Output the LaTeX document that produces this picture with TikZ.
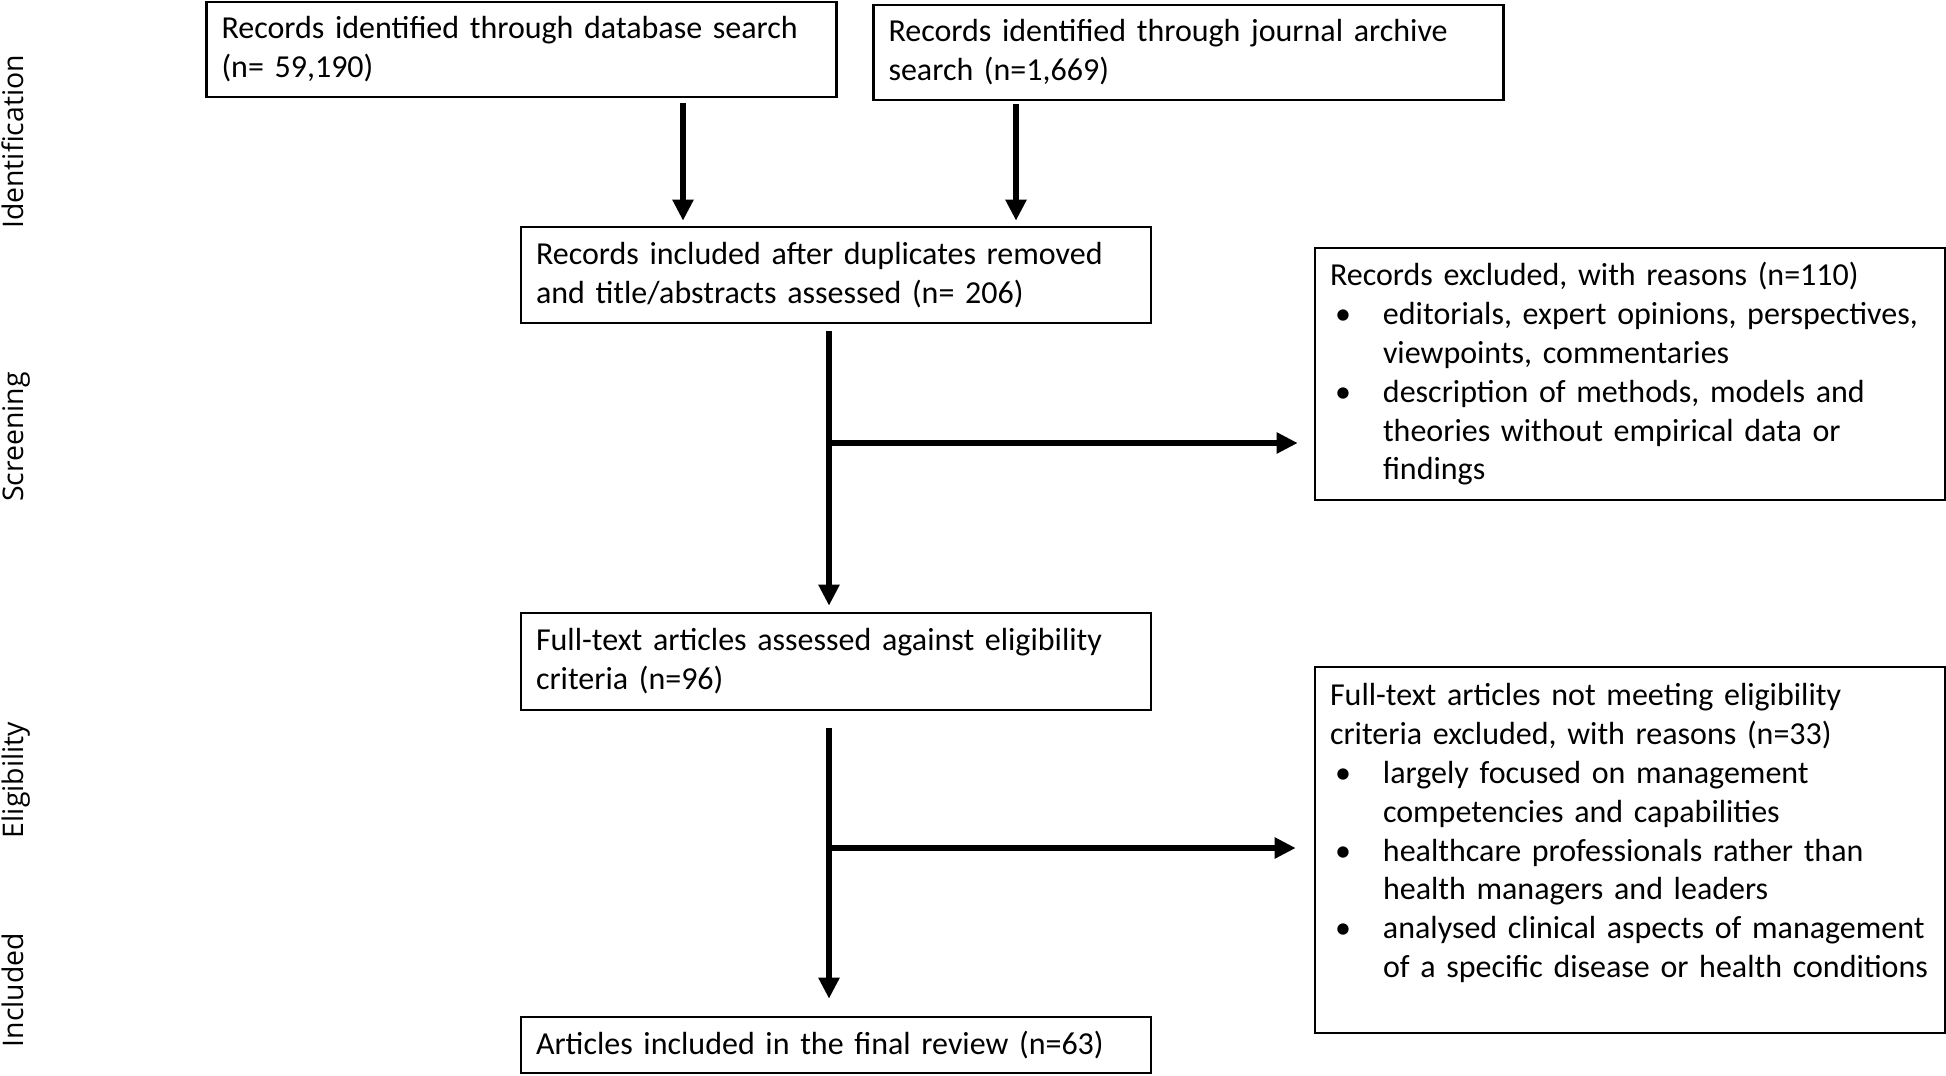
\documentclass[tikz,border=0pt]{standalone}
\usepackage{fontspec}
\setmainfont{Carlito}
\newfontfamily\stagefont{Open Sans}
\usepackage{tikz}
\usetikzlibrary{arrows.meta, calc}
\setlength{\parindent}{0pt}
\hyphenpenalty=10000

\newcommand{\reason}[1]{\par\hangindent=26.5pt\noindent\makebox[26.5pt][l]{\hspace{2.5pt}\textbullet}#1}

\begin{document}
\begin{tikzpicture}[x=0.5pt, y=-0.5pt,
    box/.style={draw=black, line width=1.3pt, inner xsep=7.5pt, inner ysep=4pt,
      text width=300pt, align=left, font=\fontsize{16pt}{19.4pt}\selectfont},
    flow/.style={line width=3pt, -{Triangle[length=10.5pt, width=10pt]}},
    stage/.style={rotate=90, anchor=base, font=\stagefont\fontsize{14.2pt}{16pt}\selectfont}]
  \useasboundingbox (0,0) rectangle (1946,1075);

  % stage labels
  \node[stage] (ident) at (23,142) {Identification};
  \node[stage] (screen) at (23,437) {Screening};
  \node[stage] (elig) at (23,780) {Eligibility};
  \node[stage] (incl) at (23,990) {Included};

  % boxes
  \node[box, minimum height=47.5pt] (db) at (521.5,49.5)
    {Records identified through database search\\(n= 59,190)};
  \node[box, minimum height=47.5pt] (journal) at (1188.5,52.5)
    {Records identified through journal archive\\search (n=1,669)};
  \node[box, minimum height=48pt] (screened) at (836,275)
    {Records included after duplicates removed\\and title/abstracts assessed (n= 206)};
  \node[box, minimum height=126pt] (excl1) at (1630,374)
    {Records excluded, with reasons (n=110)
     \reason{editorials, expert opinions, perspectives,\newline viewpoints, commentaries}
     \reason{description of methods, models and\newline theories without empirical data or\newline findings}\par};
  \node[box, minimum height=48.5pt] (fulltext) at (836,661.5)
    {Full-text articles assessed against eligibility\\criteria (n=96)};
  \node[box, minimum height=183pt] (excl2) at (1630,850)
    {Full-text articles not meeting eligibility\\criteria excluded, with reasons (n=33)
     \reason{largely focused on management\newline competencies and capabilities}
     \reason{healthcare professionals rather than\newline health managers and leaders}
     \reason{analysed clinical aspects of management\newline of a specific disease or health conditions}
     \par\mbox{}};
  \node[box, minimum height=28pt] (final) at (836,1045)
    {Articles included in the final review (n=63)};

  % arrows
  \draw[flow, shorten <=2.5pt, shorten >=2.5pt] ([xshift=80.75pt]db.south) -- ([xshift=80.75pt]db.south |- screened.north);
  \draw[flow, shorten <=1.5pt, shorten >=2.5pt] ([xshift=-86.25pt]journal.south) -- ([xshift=-86.25pt]journal.south |- screened.north);

  \draw[flow, shorten <=3.5pt, shorten >=3pt] ([xshift=-3.5pt]screened.south) -- ([xshift=-3.5pt]fulltext.north);
  \coordinate (split1) at (829,443);
  \draw[flow, shorten >=8pt] (split1) -- (split1 -| excl1.west);

  \draw[flow, shorten <=8.5pt, shorten >=8.5pt] ([xshift=-3.5pt]fulltext.south) -- ([xshift=-3.5pt]final.north);
  \coordinate (split2) at (829,848);
  \draw[flow, shorten >=9pt] (split2) -- (split2 -| excl2.west);
\end{tikzpicture}
\end{document}
